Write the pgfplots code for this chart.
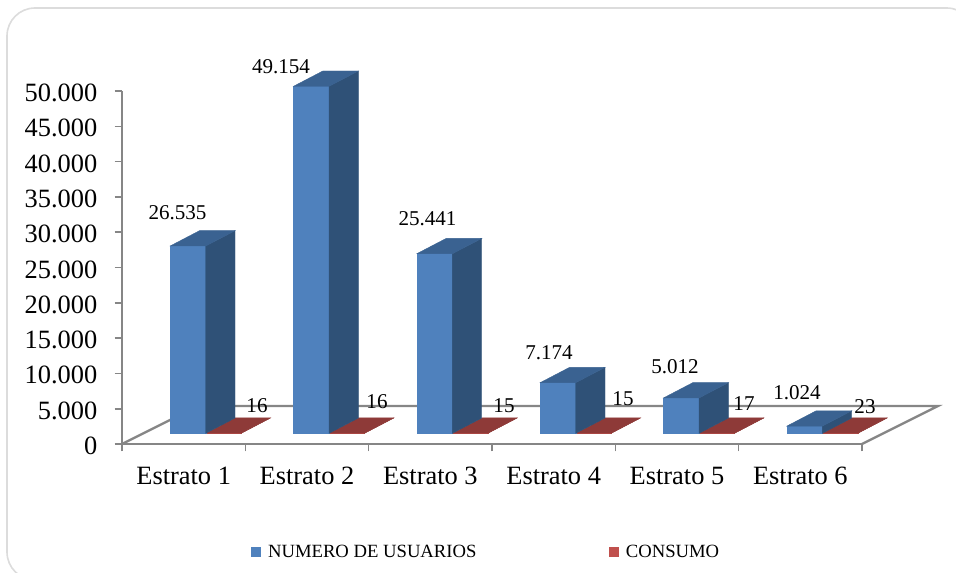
\documentclass[border=0pt]{standalone}
\usepackage{fontspec}
\setmainfont{Liberation Serif}
\usepackage{pgfplots}
\usepackage{pgfplotstable}
\pgfplotsset{compat=1.18}
\definecolor{blueF}{HTML}{4F81BD}
\definecolor{blueS}{HTML}{2F5177}
\definecolor{blueT}{HTML}{3A6291}
\definecolor{redF}{HTML}{C0504D}
\definecolor{redT}{HTML}{8E3A38}
\definecolor{axisgray}{HTML}{868686}
\definecolor{framegray}{HTML}{DCDCDC}
% values and the places of their labels (label places in reference pixels)
\pgfplotstableread{
usuarios ulx uly consumo clx cly
26535 177.5 213 16 257 406
49154 281 67 16 377 402
25441 427.5 219 15 504 406
7174 549 353 15 623 399
5012 675 367 17 744 404
1024 797 393 23 865 407
}\datos
% face corners: a = along width, d = along depth, h = share of the value
\pgfplotstableread{
a d h
0 0 0
1 0 0
1 0 1
0 0 1
}\faceF
\pgfplotstableread{
a d h
1 0 0
1 1 0
1 1 1
1 0 1
}\faceS
\pgfplotstableread{
a d h
0 0 1
1 0 1
1 1 1
0 1 1
}\faceT
\newcommand\W{0.288}
\newcommand\Dx{0.2376}
\newcommand\Dy{2166}
\newcommand\Base{1515}
\newcommand\face[6]{% cat, value, offset, width, face, colour
  \addplot[fill=#6, draw=#6, line width=0.3pt, forget plot] table[
    x expr=#1+#3+\thisrow{a}*#4+\thisrow{d}*\Dx,
    y expr=\Base+\thisrow{h}*#2+\thisrow{d}*\Dy] {#5} -- cycle;
}
\begin{document}
\begin{tikzpicture}
\path[use as bounding box] (0pt,0pt) rectangle (717pt,429pt);
\begin{scope}
\clip (0pt,0pt) rectangle (717pt,429pt);
\draw[framegray, line width=1.2pt, rounded corners=21pt] (5.25pt,423pt) rectangle (731pt,-6pt);
\end{scope}
\begin{axis}[
  at={(91.5pt,96pt)}, anchor=south west,
  scale only axis, width=555pt, height=264.75pt,
  xmin=0, xmax=6, ymin=0, ymax=50000,
  clip=false,
  axis x line=bottom, axis y line=left,
  axis line style={-, axisgray, line width=1.7pt},
  tick style={axisgray, line width=1.2pt},
  tick align=outside, major tick length=5.5pt,
  xtick={0,...,6}, x tick label as interval,
  xticklabels={Estrato 1,Estrato 2,Estrato 3,Estrato 4,Estrato 5,Estrato 6},
  xticklabel style={font=\fontsize{19.8}{22}\selectfont, yshift=-8pt},
  ytick={0,5000,...,50000},
  scaled y ticks=false,
  yticklabel style={font=\fontsize{19.8}{22}\selectfont, xshift=-9.5pt, yshift=-1.5pt,
    /pgf/number format/.cd, 1000 sep={.}, assume math mode=true},
  legend cell align=left,
  legend columns=2,
  legend style={draw=none, fill=none, at={(0.1745,-0.3073)}, anchor=west,
    font=\fontsize{14}{16}\selectfont, inner sep=0pt,
    /tikz/every even column/.style={column sep=97.5pt}},
  nodes near coords style={anchor=center, draw=none, text=black,
    font=\fontsize{15.8}{18}\selectfont, inner sep=0pt,
    /pgf/number format/.cd, 1000 sep={.}, assume math mode=true},
]
% floor of the chart
\addplot[axisgray, line width=1.7pt, forget plot] coordinates
  {(0,0) (0.616,5381) (6.616,5381) (6,0)};
\foreach \r in {0,...,5}{
  \pgfplotstablegetelem{\r}{consumo}\of\datos \let\cval\pgfplotsretval
  \pgfplotstablegetelem{\r}{usuarios}\of\datos \let\uval\pgfplotsretval
  \face{\r}{\cval}{0.681}{0.285}{\faceF}{redF}
  \face{\r}{\cval}{0.681}{0.285}{\faceS}{redT}
  \face{\r}{\cval}{0.681}{0.285}{\faceT}{redT}
  \face{\r}{\uval}{0.391}{\W}{\faceF}{blueF}
  \face{\r}{\uval}{0.391}{\W}{\faceS}{blueS}
  \face{\r}{\uval}{0.391}{\W}{\faceT}{blueT}
}
\addplot[draw=none, no markers, forget plot, nodes near coords, point meta=explicit]
  table[x expr=(\thisrow{ulx}-122)/123.33, y expr=(444-\thisrow{uly})*141.6, meta=usuarios] {\datos};
\addplot[draw=none, no markers, forget plot, nodes near coords, point meta=explicit]
  table[x expr=(\thisrow{clx}-122)/123.33, y expr=(444-\thisrow{cly})*141.6, meta=consumo] {\datos};
\addlegendimage{legend image code/.code={\fill[blueF, draw=none] (0pt,-3.75pt) rectangle (7.5pt,3.75pt); \path[draw=none, fill=none] (0pt,0pt) -- (10.5pt,0pt);}}
\addlegendentry{NUMERO DE USUARIOS}
\addlegendimage{legend image code/.code={\fill[redF, draw=none] (0pt,-3.75pt) rectangle (7.5pt,3.75pt); \path[draw=none, fill=none] (0pt,0pt) -- (10.5pt,0pt);}}
\addlegendentry{CONSUMO}
\end{axis}
\end{tikzpicture}
\end{document}
